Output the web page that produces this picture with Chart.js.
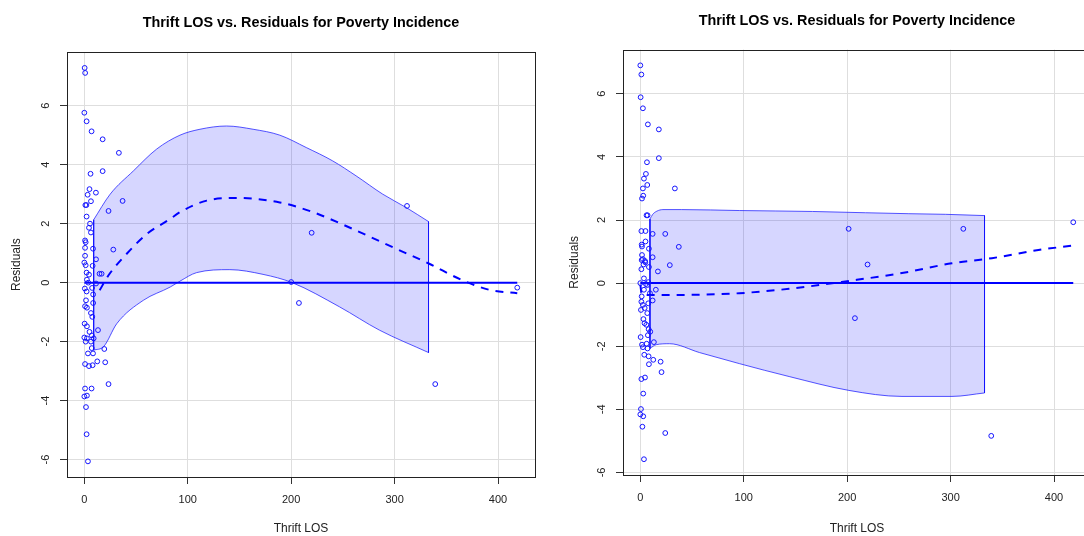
<!DOCTYPE html>
<html>
<head>
<meta charset="utf-8">
<script src="https://cdn.jsdelivr.net/npm/chart.js@4.4.1/dist/chart.umd.min.js"></script>
<style>
  html, body { margin: 0; padding: 0; background: #fff; overflow: hidden; width: 1084px; height: 536px; }
  .clip { position: absolute; top: 0; height: 536px; overflow: hidden; }
  .panel { position: absolute; left: 0; top: 0; width: 556px; height: 536px; }
  #clipLeft { left: 0; width: 556px; }
  #clipRight { left: 556px; width: 528px; }
</style>
</head>
<body>
<div class="clip" id="clipLeft"><div class="panel"><canvas id="c1"></canvas></div></div>
<div class="clip" id="clipRight"><div class="panel"><canvas id="c2"></canvas></div></div>
<script>
const titleText = 'Thrift LOS vs. Residuals for Poverty Incidence';
const xTicks = [0, 100, 200, 300, 400];
const yTicks = [-6, -4, -2, 0, 2, 4, 6];
const zeroLos = [0, 418.6];
const zeroVal = [0, 0];

// left panel
const losA = [0.3,0.8,0,2.2,7,17.7,33.4,17.7,6,5,11.2,3.2,6.4,37,1,2,23.4,2.2,5.5,4.5,6.4,0.7,1.3,0.7,8.4,28,0.7,11.3,0,1.3,8,2.2,4.5,14.7,16.7,2.5,3.8,11.3,0.5,2.2,7.5,8.5,1.6,0.7,8.5,2.5,6.4,7.7,0.3,2.5,13.2,5,7.2,0,2.5,9,1.3,6.4,7.2,3.5,8.4,19.3,0.7,4.5,8,12.5,20.2,23.4,0.7,7,0,2.5,1.6,2.2,3.5,200,207.5,219.8,312,339.3,418.6];
const residA = [7.28,7.11,5.76,5.47,5.13,4.86,4.40,3.78,3.69,3.17,3.05,2.98,2.76,2.77,2.63,2.63,2.43,2.24,2.0,1.86,1.70,1.43,1.37,1.18,1.15,1.12,0.91,0.79,0.68,0.59,0.57,0.34,0.27,0.30,0.30,0.10,0.0,-0.03,-0.20,-0.30,-0.18,-0.40,-0.60,-0.80,-0.69,-0.85,-1.03,-1.16,-1.39,-1.48,-1.61,-1.67,-1.79,-1.86,-1.89,-1.89,-2.0,-2.0,-2.22,-2.4,-2.4,-2.25,-2.76,-2.83,-2.80,-2.67,-2.70,-3.44,-3.59,-3.59,-3.86,-3.83,-4.22,-5.14,-6.06,0.02,-0.69,1.69,2.60,-3.44,-0.17];
const upperLosA = [9, 25, 47.5, 70, 92.5, 111.8, 137.5, 163.2, 189, 214.6, 240, 262.8, 288.5, 311, 332.8];
const upperA = [2.13, 3.0, 3.79, 4.53, 5.0, 5.2, 5.31, 5.2, 5.0, 4.58, 4.13, 3.62, 3.0, 2.55, 2.07];
const lowerLosA = [9, 18.6, 31.4, 57, 83, 92.5, 108.6, 140.7, 172.8, 201, 246.7, 285.3, 332.8];
const lowerA = [-2.29, -2.17, -1.39, -0.6, -0.15, 0.05, 0.34, 0.44, 0.28, 0.0, -0.82, -1.61, -2.37];
const trendLosA = [14.8, 23.4, 41, 60.4, 83, 92.5, 118.3, 147, 189, 221, 259.5, 301.4, 333.5, 365.6, 391.3, 418.6];
const trendA = [-0.26, 0.25, 0.98, 1.65, 2.16, 2.39, 2.78, 2.87, 2.72, 2.39, 1.82, 1.15, 0.64, 0.08, -0.24, -0.36];

// right panel
const losB = [0,1,0.3,2.5,7.3,17.9,17.9,6.4,5.4,3.5,6.7,2.5,33.4,2.8,1.6,6,7,1,5,11.9,24.1,5,1.3,1.6,8.3,37.2,11.9,1.6,2.5,4.5,1.3,4.8,3.2,28.5,8.3,1,17,3.5,7.7,0,5.4,6.7,15,9.3,3.5,1.3,11.9,1,2.5,7.7,4.2,0.6,6.7,3,4,5.8,8,9.6,7.3,0.3,13.1,1.6,6.1,2.5,7,3.8,8,12.5,19.6,8.3,20.5,4.5,1,2.8,0.6,0,2.8,2,24.1,3.5,201.4,207.5,219.7,312.3,339.3,418.6];
const residB = [6.90,6.61,5.89,5.54,5.03,4.87,3.96,3.83,3.46,3.31,3.11,3.0,3.0,2.77,2.68,2.15,2.15,1.65,1.65,1.56,1.56,1.32,1.22,1.16,1.09,1.15,0.82,0.89,0.76,0.70,0.73,0.66,0.59,0.57,0.51,0.44,0.37,0.15,0.03,0,-0.03,-0.06,-0.21,-0.32,-0.21,-0.42,-0.55,-0.59,-0.69,-0.64,-0.79,-0.85,-0.95,-1.14,-1.27,-1.32,-1.46,-1.54,-1.65,-1.71,-1.87,-1.95,-1.92,-2.03,-2.07,-2.27,-2.32,-2.43,-2.49,-2.57,-2.82,-2.99,-3.04,-3.50,-3.99,-4.16,-4.22,-4.55,-4.75,-5.58,1.72,-1.11,0.59,1.72,-4.84,1.93];
const upperLosB = [9.3, 12, 16, 21.8, 40, 95.7, 166.4, 217.8, 259.6, 295, 332.8];
const upperB = [2.03, 2.18, 2.28, 2.33, 2.33, 2.30, 2.27, 2.23, 2.20, 2.18, 2.14];
const lowerLosB = [9.3, 15.4, 28.2, 57.2, 95.7, 143.9, 201.7, 253, 301.3, 332.8];
const lowerB = [-2.07, -1.95, -1.92, -2.2, -2.55, -2.96, -3.40, -3.59, -3.59, -3.48];
const trendLosB = [0, 1.5, 20, 50, 95.7, 143.9, 201.7, 253, 301.3, 339.9, 384.9, 418.6];
const trendB = [-0.05, -0.37, -0.38, -0.37, -0.32, -0.18, 0.07, 0.32, 0.63, 0.79, 1.05, 1.19];

Chart.defaults.font.family = '"Liberation Sans", Arial, sans-serif';
Chart.defaults.color = '#222';

const pts = (xs, ys) => xs.map((x, i) => ({x: x, y: ys[i]}));

// full box round the plot region, like R's box()
const boxPlugin = {
  id: 'box',
  afterDraw(chart) {
    const {ctx, chartArea: a} = chart;
    ctx.save();
    ctx.strokeStyle = '#222';
    ctx.lineWidth = 1;
    ctx.strokeRect(Math.round(a.left) + 0.5, Math.round(a.top) + 0.5,
      Math.round(a.right - a.left), Math.round(a.bottom - a.top));
    ctx.restore();
  }
};

function makeChart(id, g) {
  const last = g.upperLos.length - 1;
  const lastLo = g.lowerLos.length - 1;
  return new Chart(document.getElementById(id), {
    type: 'scatter',
    data: {
      datasets: [
        {
          data: pts(g.los, g.resid),
          pointRadius: 2.4,
          pointBorderWidth: 1,
          borderColor: 'rgb(20,20,255)',
          backgroundColor: 'rgba(0,0,0,0)',
          order: 0
        },
        {
          data: pts(g.trendLos, g.trend),
          showLine: true,
          borderColor: '#0000ff',
          borderWidth: 2,
          borderDash: [8, 7],
          pointRadius: 0,
          cubicInterpolationMode: 'monotone',
          fill: false,
          order: 1
        },
        {
          data: pts(zeroLos, zeroVal),
          showLine: true,
          borderColor: '#0000ff',
          borderWidth: 2,
          pointRadius: 0,
          fill: false,
          order: 2
        },
        {
          data: pts(g.upperLos, g.upper),
          showLine: true,
          borderColor: 'rgba(30,30,255,0.75)',
          borderWidth: 1,
          backgroundColor: 'rgba(0,0,255,0.16)',
          pointRadius: 0,
          cubicInterpolationMode: 'monotone',
          fill: '+1',
          order: 3
        },
        {
          data: pts(g.lowerLos, g.lower),
          showLine: true,
          borderColor: 'rgba(30,30,255,0.75)',
          borderWidth: 1,
          pointRadius: 0,
          cubicInterpolationMode: 'monotone',
          fill: false,
          order: 4
        },
        {
          data: [
            {x: g.upperLos[0], y: g.upper[0]}, {x: g.lowerLos[0], y: g.lower[0]},
            {x: g.upperLos[0], y: null},
            {x: g.upperLos[last], y: g.upper[last]}, {x: g.lowerLos[lastLo], y: g.lower[lastLo]}
          ],
          showLine: true,
          borderColor: 'rgba(20,20,255,0.9)',
          borderWidth: 1,
          pointRadius: 0,
          fill: false,
          order: 5
        }
      ]
    },
    options: {
      responsive: true,
      maintainAspectRatio: false,
      animation: false,
      layout: { padding: { left: 0, right: 21, top: 0, bottom: 0 } },
      plugins: {
        legend: { display: false },
        tooltip: { enabled: false },
        title: {
          display: true,
          text: titleText,
          fullSize: false,
          color: '#000',
          font: { size: 14.4, weight: 'bold' },
          padding: { top: g.titleTop, bottom: g.titleBottom }
        }
      },
      scales: {
        x: {
          type: 'linear',
          bounds: 'data',
          min: -16.76,
          max: 435.76,
          afterBuildTicks: (s) => { s.ticks = xTicks.map(v => ({value: v})); },
          afterFit: (s) => { s.height = g.xHeight; },
          grid: { color: '#dedede', tickColor: '#333', tickLength: 7 },
          border: { display: false },
          ticks: { font: { size: 11 }, color: '#222', padding: 9, autoSkip: false, maxRotation: 0 },
          title: { display: true, text: 'Thrift LOS', font: { size: 12 }, color: '#222', padding: { top: 0, bottom: 0 } }
        },
        y: {
          type: 'linear',
          bounds: 'data',
          min: g.yMin,
          max: g.yMax,
          afterBuildTicks: (s) => { s.ticks = yTicks.map(v => ({value: v})); },
          afterFit: (s) => { s.width = 67; },
          grid: { color: '#dedede', tickColor: '#333', tickLength: 7 },
          border: { display: false },
          ticks: {
            font: { size: 11 }, color: '#222', padding: 9, autoSkip: false,
            minRotation: 90, maxRotation: 90, crossAlign: 'center',
            callback: (v) => String(v)
          },
          title: { display: true, text: 'Residuals', font: { size: 12 }, color: '#222', padding: { top: g.yTitlePad, bottom: 0 } }
        }
      }
    },
    plugins: [boxPlugin]
  });
}

makeChart('c1', {
  los: losA, resid: residA,
  upperLos: upperLosA, upper: upperA, lowerLos: lowerLosA, lower: lowerA,
  trendLos: trendLosA, trend: trendA,
  yMin: -6.59, yMax: 7.81,
  titleTop: 14, titleBottom: 21, xHeight: 59, yTitlePad: 9.5
});

makeChart('c2', {
  los: losB, resid: residB,
  upperLos: upperLosB, upper: upperB, lowerLos: lowerLosB, lower: lowerB,
  trendLos: trendLosB, trend: trendB,
  yMin: -6.08, yMax: 7.40,
  titleTop: 12, titleBottom: 20.3, xHeight: 61, yTitlePad: 11
});
</script>
</body>
</html>
